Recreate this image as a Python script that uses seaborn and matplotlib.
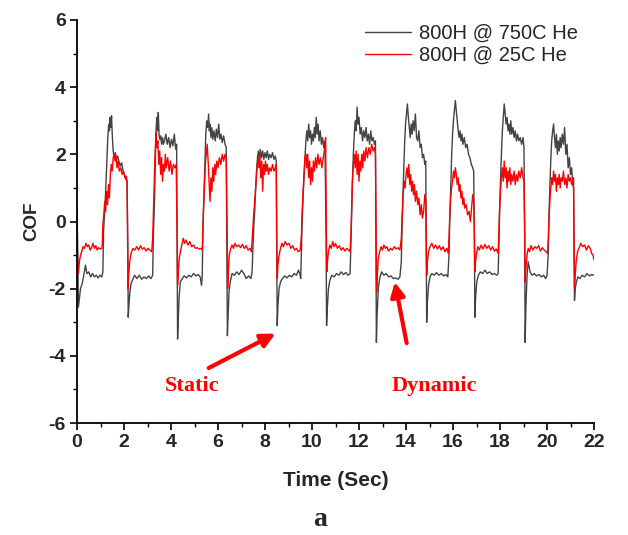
import matplotlib
matplotlib.use("Agg")
import matplotlib.pyplot as plt
from matplotlib.ticker import MultipleLocator
import pandas as pd
import seaborn as sns

series_labels = ["800H @ 750C He", "800H @ 25C He"]
series_colors = ["#434343", "#ff0000"]

time_750 = [
    0.00, 0.03, 0.06, 0.10, 0.15, 0.22, 0.30, 0.36, 0.42, 0.50, 0.58, 0.66, 0.74, 0.82, 0.90, 0.98, 1.06,
    1.10, 1.13, 1.17, 1.22, 1.27, 1.31, 1.35, 1.38, 1.41, 1.44, 1.47, 1.50, 1.54, 1.58, 1.63, 1.68, 1.73, 1.78, 1.84, 1.90, 1.96, 2.02, 2.08, 2.13,
    2.16, 2.18, 2.21, 2.25, 2.30, 2.36, 2.45, 2.55, 2.65, 2.75, 2.85, 2.95, 3.05, 3.15, 3.22,
    3.25, 3.28, 3.31, 3.34, 3.37, 3.40, 3.43, 3.46, 3.49, 3.52, 3.56, 3.60, 3.64, 3.68, 3.72, 3.78, 3.84, 3.90, 3.96, 4.02, 4.08, 4.14, 4.20, 4.24,
    4.26, 4.28, 4.31, 4.35, 4.40, 4.48, 4.56, 4.66, 4.76, 4.86, 4.96, 5.06, 5.16, 5.24, 5.30, 5.33,
    5.36, 5.39, 5.42, 5.45, 5.48, 5.52, 5.56, 5.60, 5.63, 5.66, 5.70, 5.74, 5.78, 5.83, 5.88, 5.93, 5.98, 6.03, 6.08, 6.13, 6.18, 6.24, 6.30, 6.35,
    6.38, 6.40, 6.43, 6.47, 6.52, 6.60, 6.70, 6.80, 6.90, 7.00, 7.10, 7.20, 7.30, 7.40,
    7.45, 7.48, 7.52, 7.56, 7.60, 7.64, 7.68, 7.72, 7.76, 7.80, 7.85, 7.90, 7.95, 8.00, 8.05, 8.10, 8.15, 8.20, 8.26, 8.32, 8.38, 8.44, 8.48,
    8.50, 8.52, 8.55, 8.60, 8.66, 8.74, 8.84, 8.94, 9.04, 9.14, 9.24, 9.34, 9.42, 9.48, 9.52,
    9.55, 9.58, 9.62, 9.66, 9.70, 9.74, 9.78, 9.82, 9.86, 9.90, 9.94, 9.98, 10.02, 10.06, 10.10, 10.14, 10.18, 10.22, 10.26, 10.30, 10.35, 10.40, 10.45, 10.50, 10.55,
    10.60, 10.62, 10.65, 10.70, 10.76, 10.84, 10.94, 11.04, 11.14, 11.24, 11.34, 11.44, 11.54, 11.62,
    11.66, 11.69, 11.72, 11.76, 11.80, 11.84, 11.88, 11.92, 11.96, 12.00, 12.05, 12.10, 12.15, 12.20, 12.25, 12.30, 12.35, 12.40, 12.45, 12.50, 12.55, 12.60, 12.66, 12.70,
    12.72, 12.74, 12.77, 12.82, 12.88, 12.96, 13.06, 13.16, 13.26, 13.36, 13.46, 13.56, 13.66, 13.74,
    13.80, 13.83, 13.86, 13.90, 13.94, 13.98, 14.02, 14.06, 14.10, 14.14, 14.18, 14.22, 14.26, 14.30, 14.35, 14.40, 14.45, 14.50, 14.55, 14.60, 14.65, 14.70, 14.75, 14.80, 14.84,
    14.86, 14.88, 14.91, 14.96, 15.02, 15.10, 15.20, 15.30, 15.40, 15.50, 15.60, 15.70, 15.78,
    15.83, 15.86, 15.90, 15.94, 15.98, 16.02, 16.06, 16.10, 16.14, 16.18, 16.22, 16.26, 16.30, 16.34, 16.38, 16.42, 16.48, 16.54, 16.60, 16.66, 16.72, 16.78, 16.84, 16.88,
    16.91, 16.93, 16.96, 17.01, 17.08, 17.16, 17.26, 17.36, 17.46, 17.56, 17.66, 17.76, 17.86, 17.92,
    17.95, 17.98, 18.02, 18.06, 18.10, 18.14, 18.18, 18.22, 18.26, 18.30, 18.34, 18.38, 18.42, 18.46, 18.50, 18.55, 18.60, 18.65, 18.70, 18.75, 18.80, 18.86, 18.92, 18.98, 19.02,
    19.05, 19.07, 19.10, 19.15, 19.20, 19.28, 19.36, 19.46, 19.56, 19.66, 19.76, 19.86, 19.94, 20.00,
    20.05, 20.08, 20.12, 20.16, 20.20, 20.24, 20.28, 20.32, 20.36, 20.40, 20.44, 20.48, 20.52, 20.56, 20.60, 20.65, 20.70, 20.75, 20.80, 20.85, 20.90, 20.95, 21.00, 21.05, 21.10, 21.13,
    21.15, 21.17, 21.20, 21.25, 21.32, 21.40, 21.50, 21.60, 21.70, 21.80, 21.90, 22.00,
]
cof_750 = [
    0.45, -0.8, -2.55, -2.3, -2.0, -1.85, -1.55, -1.3, -1.55, -1.5, -1.65, -1.55, -1.65, -1.6, -1.68, -1.6, -1.65,
    -1.5, -0.3, 0.2, 0.9, 1.8, 2.5, 2.9, 2.7, 3.1, 2.8, 3.15, 2.6, 2.1, 1.9, 2.05, 1.85, 1.95, 1.8, 1.65, 1.75, 1.5, 1.4, 1.25, 1.2,
    -0.5, -2.85, -2.5, -2.1, -1.85, -1.75, -1.6, -1.7, -1.6, -1.72, -1.65, -1.7, -1.62, -1.7, -1.6,
    -0.4, 0.2, 1.0, 2.0, 2.8, 3.1, 2.7, 3.25, 2.6, 2.45, 2.55, 2.3, 2.5, 2.3, 2.4, 2.6, 2.3, 2.5, 2.2, 2.45, 2.25, 2.6, 2.15, 2.3,
    -0.8, -3.5, -2.9, -2.2, -1.8, -1.7, -1.62, -1.68, -1.6, -1.65, -1.55, -1.62, -1.58, -1.65, -1.9, -1.6,
    -0.2, 0.5, 1.3, 2.0, 2.6, 3.0, 2.8, 3.2, 2.7, 2.9, 2.5, 2.8, 2.45, 2.7, 2.4, 2.75, 2.5, 2.9, 2.45, 2.6, 2.35, 2.55, 2.3, 2.2,
    -1.0, -3.4, -2.8, -2.1, -1.8, -1.55, -1.6, -1.5, -1.58, -1.45, -1.55, -1.7, -1.62, -1.7,
    -1.5, -0.9, -0.2, 0.3, 0.9, 1.5, 1.9, 2.1, 1.8, 2.15, 1.9, 2.1, 1.85, 2.05, 1.9, 2.1, 1.85, 2.0, 1.9, 2.05, 1.85, 1.95, 1.8,
    -1.0, -3.1, -2.5, -2.0, -1.8, -1.7, -1.62, -1.68, -1.6, -1.65, -1.55, -1.6, -1.45, -1.55, -1.7,
    -0.8, 0.0, 0.7, 1.3, 1.9, 2.4, 2.7, 2.4, 2.9, 2.5, 2.7, 2.3, 2.6, 2.4, 2.8, 2.5, 3.1, 2.6, 2.9, 2.4, 2.7, 2.3, 2.5, 2.2, 2.4,
    -0.5, -3.1, -2.6, -2.0, -1.75, -1.6, -1.65, -1.55, -1.6, -1.5, -1.58, -1.52, -1.6, -1.55,
    -0.6, 0.3, 1.2, 2.0, 2.6, 3.0, 2.7, 3.4, 2.9, 3.1, 2.6, 2.8, 2.4, 2.7, 2.5, 2.8, 2.4, 2.6, 2.3, 2.7, 2.4, 2.5, 2.3, 2.4,
    -0.5, -3.6, -2.8, -2.0, -1.7, -1.5, -1.6, -1.55, -1.65, -1.62, -1.7, -1.68, -1.72, -1.65,
    -1.2, -0.3, 0.6, 1.5, 2.3, 2.9, 3.2, 3.5, 3.1, 2.8, 2.5, 2.9, 2.6, 3.0, 2.7, 3.2, 2.5, 2.4, 2.7, 2.2, 2.3, 1.9, 2.0, 1.7, 1.8,
    -0.6, -3.0, -2.4, -1.9, -1.65, -1.55, -1.6, -1.52, -1.6, -1.55, -1.62, -1.58, -1.65,
    -1.0, 0.0, 1.0, 1.9, 2.6, 3.0, 3.3, 3.6, 3.3, 3.0, 2.7, 2.5, 2.7, 2.4, 2.6, 2.3, 2.5, 2.2, 2.3, 2.0, 1.9, 1.7, 1.6, 1.5,
    -0.5, -2.85, -2.3, -1.8, -1.6, -1.5, -1.55, -1.45, -1.55, -1.5, -1.58, -1.55, -1.6, -1.55,
    -0.8, 0.2, 1.2, 2.0, 2.7, 3.1, 3.5, 3.2, 2.9, 3.1, 2.7, 2.9, 2.6, 3.0, 2.6, 2.8, 2.5, 2.7, 2.4, 2.6, 2.4, 2.5, 2.3, 2.5, 2.2,
    -0.5, -3.6, -2.6, -1.6, -1.2, -1.5, -1.6, -1.55, -1.62, -1.58, -1.65, -1.6, -1.7, -1.62,
    -1.0, 0.0, 1.0, 1.8, 2.4, 2.7, 2.9, 2.5, 2.2, 2.6, 2.0, 2.4, 2.1, 2.5, 2.2, 2.6, 2.3, 2.8, 2.0, 2.3, 1.6, 1.9, 1.4, 1.6, 1.1, 1.0,
    -0.5, -2.35, -2.0, -1.8, -1.65, -1.7, -1.6, -1.65, -1.55, -1.62, -1.58, -1.6,
]

time_25 = [
    0.00, 0.03, 0.06, 0.10, 0.15, 0.20, 0.26, 0.32, 0.38, 0.44, 0.50, 0.56, 0.62, 0.68, 0.74, 0.80, 0.86, 0.92, 1.00, 1.06,
    1.08, 1.10, 1.14, 1.18, 1.22, 1.26, 1.30, 1.34, 1.38, 1.42, 1.46, 1.50, 1.54, 1.58, 1.62, 1.66, 1.70, 1.75, 1.80, 1.86, 1.92, 1.98, 2.04, 2.10, 2.13,
    2.15, 2.17, 2.20, 2.24, 2.30, 2.38, 2.46, 2.54, 2.62, 2.70, 2.78, 2.86, 2.94, 3.02, 3.10, 3.18,
    3.22, 3.25, 3.28, 3.31, 3.34, 3.37, 3.40, 3.44, 3.48, 3.52, 3.56, 3.60, 3.64, 3.68, 3.72, 3.76, 3.80, 3.86, 3.92, 3.98, 4.04, 4.10, 4.16, 4.22,
    4.26, 4.28, 4.31, 4.35, 4.40, 4.46, 4.52, 4.58, 4.64, 4.72, 4.80, 4.88, 4.96, 5.04, 5.12, 5.20, 5.28, 5.33,
    5.35, 5.38, 5.42, 5.46, 5.50, 5.54, 5.58, 5.62, 5.66, 5.70, 5.74, 5.78, 5.82, 5.86, 5.90, 5.95, 6.00, 6.06, 6.12, 6.18, 6.24, 6.30, 6.35,
    6.39, 6.41, 6.44, 6.48, 6.54, 6.60, 6.66, 6.72, 6.80, 6.88, 6.96, 7.04, 7.12, 7.20, 7.28, 7.36, 7.42,
    7.45, 7.50, 7.55, 7.60, 7.65, 7.70, 7.74, 7.78, 7.82, 7.86, 7.90, 7.94, 7.98, 8.02, 8.06, 8.10, 8.15, 8.20, 8.26, 8.32, 8.38, 8.44, 8.48,
    8.50, 8.52, 8.55, 8.60, 8.66, 8.72, 8.78, 8.86, 8.94, 9.02, 9.10, 9.18, 9.26, 9.34, 9.42, 9.50,
    9.55, 9.58, 9.62, 9.66, 9.70, 9.74, 9.78, 9.82, 9.86, 9.90, 9.94, 9.98, 10.02, 10.06, 10.10, 10.15, 10.20, 10.25, 10.30, 10.36, 10.42, 10.48, 10.54, 10.58,
    10.61, 10.63, 10.66, 10.70, 10.76, 10.82, 10.88, 10.94, 11.00, 11.08, 11.16, 11.24, 11.32, 11.40, 11.48, 11.56, 11.62,
    11.66, 11.69, 11.72, 11.76, 11.80, 11.84, 11.88, 11.92, 11.96, 12.00, 12.04, 12.08, 12.12, 12.16, 12.20, 12.25, 12.30, 12.36, 12.42, 12.48, 12.54, 12.60, 12.66, 12.70,
    12.73, 12.75, 12.78, 12.82, 12.88, 12.94, 13.00, 13.06, 13.12, 13.18, 13.26, 13.34, 13.42, 13.50, 13.58, 13.66, 13.74,
    13.80, 13.84, 13.88, 13.92, 13.96, 14.00, 14.04, 14.08, 14.12, 14.16, 14.20, 14.24, 14.28, 14.32, 14.36, 14.40, 14.45, 14.50, 14.55, 14.60, 14.65, 14.70, 14.75, 14.80, 14.84,
    14.86, 14.88, 14.91, 14.96, 15.02, 15.10, 15.18, 15.26, 15.34, 15.42, 15.50, 15.58, 15.66, 15.74, 15.80,
    15.83, 15.86, 15.90, 15.94, 15.98, 16.02, 16.06, 16.10, 16.14, 16.18, 16.22, 16.26, 16.30, 16.34, 16.38, 16.42, 16.46, 16.50, 16.56, 16.62, 16.68, 16.74, 16.80, 16.84, 16.88,
    16.91, 16.93, 16.96, 17.00, 17.06, 17.12, 17.20, 17.28, 17.36, 17.44, 17.52, 17.60, 17.68, 17.76, 17.84, 17.92,
    17.95, 17.98, 18.02, 18.06, 18.10, 18.14, 18.18, 18.22, 18.26, 18.30, 18.34, 18.38, 18.42, 18.46, 18.50, 18.55, 18.60, 18.65, 18.70, 18.75, 18.80, 18.86, 18.92, 18.98, 19.02,
    19.05, 19.07, 19.10, 19.15, 19.20, 19.26, 19.32, 19.40, 19.48, 19.56, 19.64, 19.72, 19.80, 19.88, 19.96, 20.02,
    20.05, 20.08, 20.12, 20.16, 20.20, 20.24, 20.28, 20.32, 20.36, 20.40, 20.44, 20.48, 20.52, 20.56, 20.60, 20.65, 20.70, 20.75, 20.80, 20.85, 20.90, 20.95, 21.00, 21.05, 21.10, 21.13,
    21.15, 21.17, 21.20, 21.24, 21.30, 21.36, 21.44, 21.52, 21.60, 21.68, 21.76, 21.84, 21.90, 21.96, 22.00,
]
cof_25 = [
    -0.5, -1.2, -1.55, -1.2, -1.0, -0.9, -0.75, -0.8, -0.65, -0.75, -0.7, -0.85, -0.78, -0.65, -0.8, -0.72, -0.85, -0.78, -0.82, -0.8,
    -0.6, -0.1, 0.2, 0.6, 0.3, 0.9, 0.5, 1.1, 0.7, 1.4, 1.7, 1.5, 1.9, 2.0, 1.8, 1.95, 1.6, 1.8, 1.5, 1.6, 1.4, 1.5, 1.3, 1.35, 1.2,
    -0.5, -2.0, -1.6, -1.2, -0.95, -0.8, -0.85, -0.75, -0.85, -0.72, -0.82, -0.78, -0.88, -0.8, -0.85, -0.9,
    -0.5, 0.2, 1.0, 1.8, 2.3, 2.65, 2.2, 2.4, 1.7, 2.1, 1.4, 1.9, 1.2, 1.7, 1.5, 2.0, 1.6, 1.9, 1.5, 1.8, 1.4, 1.7, 1.6, 1.7,
    -0.3, -1.9, -1.5, -1.1, -0.9, -0.7, -0.5, -0.65, -0.55, -0.7, -0.6, -0.75, -0.7, -0.8, -0.78, -0.82, -0.8, -0.85,
    -0.4, 0.3, 1.0, 1.7, 2.0, 2.3, 1.8, 1.2, 0.6, 1.3, 0.9, 1.6, 1.2, 1.7, 1.4, 1.8, 1.6, 1.9, 1.7, 2.0, 1.8, 2.0, 1.9,
    -0.3, -2.0, -1.5, -1.0, -0.8, -0.7, -0.8, -0.65, -0.75, -0.7, -0.78, -0.68, -0.8, -0.72, -0.85, -0.8, -0.9,
    -0.6, 0.0, 0.5, 1.0, 1.5, 1.9, 1.6, 2.0, 1.3, 1.8, 0.9, 1.7, 1.4, 1.8, 1.5, 1.7, 1.4, 1.6, 1.5, 1.7, 1.5, 1.6, 1.7,
    -0.5, -1.7, -1.3, -1.0, -0.8, -0.65, -0.75, -0.6, -0.7, -0.65, -0.8, -0.72, -0.85, -0.8, -0.9, -0.85,
    -0.4, 0.3, 0.9, 1.4, 1.9, 2.0, 1.6, 2.0, 1.3, 1.8, 1.1, 1.6, 1.2, 1.8, 1.5, 1.9, 1.6, 2.0, 1.7, 1.9, 1.6, 1.9, 2.2, 2.5,
    -0.3, -1.5, -1.2, -0.9, -0.7, -0.8, -0.6, -0.75, -0.65, -0.8, -0.72, -0.85, -0.78, -0.88, -0.8, -0.85, -0.9,
    -0.3, 0.5, 1.2, 1.7, 2.0, 1.6, 2.1, 1.4, 2.0, 1.2, 1.8, 1.5, 2.0, 1.6, 2.1, 1.8, 2.2, 1.9, 2.2, 2.0, 2.3, 2.1, 2.2, 2.0,
    -0.4, -2.1, -1.6, -1.1, -0.9, -0.75, -0.85, -0.7, -0.8, -0.75, -0.88, -0.8, -0.85, -0.75, -0.82, -0.78, -0.85,
    -0.5, 0.2, 0.8, 1.2, 1.0, 1.4, 1.6, 1.3, 1.7, 1.1, 1.4, 0.9, 1.2, 0.8, 1.1, 0.6, 0.9, 0.5, 0.7, 0.2, 0.5, 0.1, 0.3, 0.8, 0.6,
    -0.4, -1.6, -1.2, -0.9, -0.75, -0.65, -0.8, -0.7, -0.82, -0.72, -0.85, -0.75, -0.9, -0.8, -0.95,
    -0.5, 0.1, 0.7, 1.0, 1.2, 1.5, 1.3, 1.6, 1.4, 1.1, 1.3, 0.9, 1.1, 0.7, 0.9, 0.5, 0.7, 0.4, 0.5, 0.2, 0.3, 0.0, 0.5, 0.8, 0.6,
    -0.3, -1.5, -1.2, -0.95, -0.75, -0.85, -0.7, -0.82, -0.68, -0.8, -0.72, -0.85, -0.75, -0.88, -0.82, -0.95,
    -0.4, 0.3, 0.9, 1.3, 1.6, 1.2, 1.8, 1.3, 1.6, 1.0, 1.5, 1.2, 1.6, 1.1, 1.4, 1.2, 1.5, 1.1, 1.4, 1.2, 1.5, 1.3, 1.6, 1.3, 1.2,
    -0.2, -1.8, -1.4, -1.0, -0.8, -0.9, -0.72, -0.85, -0.75, -0.8, -0.72, -0.88, -0.78, -0.85, -0.9, -0.95,
    -0.6, 0.0, 0.6, 1.0, 1.3, 1.1, 1.5, 1.2, 1.4, 0.9, 1.3, 1.1, 1.4, 1.0, 1.3, 1.2, 1.5, 1.1, 1.3, 1.0, 1.4, 1.2, 1.3, 1.1, 1.2, 1.3,
    -0.3, -2.0, -1.6, -1.2, -0.9, -0.8, -0.65, -0.75, -0.7, -0.85, -0.72, -0.8, -0.95, -1.0, -1.15,
]

x_ticks = list(range(0, 23, 2))
y_ticks = list(range(-6, 7, 2))

df = pd.concat([
    pd.DataFrame({"Time (Sec)": time_750, "COF": cof_750, "Series": series_labels[0]}),
    pd.DataFrame({"Time (Sec)": time_25, "COF": cof_25, "Series": series_labels[1]}),
], ignore_index=True)

sns.set_theme(style="ticks")
plt.rcParams["font.family"] = ["Liberation Sans", "DejaVu Sans"]
plt.rcParams["axes.unicode_minus"] = False

fig = plt.figure(figsize=(6.28, 5.35), dpi=100)
ax = fig.add_axes([77 / 628, 1 - 423 / 535, (594 - 77) / 628, (423 - 20) / 535])

sns.lineplot(data=df, x="Time (Sec)", y="COF", hue="Series",
             palette=dict(zip(series_labels, series_colors)),
             estimator=None, sort=False, linewidth=1.0, ax=ax)

ax.set_xlim(0, 22)
ax.set_ylim(-6, 6)
ax.set_xticks(x_ticks)
ax.set_yticks(y_ticks)
ax.xaxis.set_minor_locator(MultipleLocator(1))
ax.yaxis.set_minor_locator(MultipleLocator(1))
ax.tick_params(which="major", direction="out", length=5, width=1.2, labelsize=14, pad=3, color="black")
ax.tick_params(which="minor", direction="out", length=3, width=1.0, color="black")
for lab in ax.get_xticklabels() + ax.get_yticklabels():
    lab.set_fontweight("bold")
sns.despine(ax=ax)
for s in ["left", "bottom"]:
    ax.spines[s].set_linewidth(1.3)
    ax.spines[s].set_color("black")

ax.set_xlabel("Time (Sec)", fontsize=15, fontweight="bold", labelpad=14)
ax.set_ylabel("COF", fontsize=13.5, fontweight="bold", labelpad=6)

leg = ax.legend(loc="upper right", bbox_to_anchor=(0.985, 1.01), frameon=False,
                fontsize=14.5, handlelength=2.3, handletextpad=0.4, labelspacing=0.15,
                borderaxespad=0.0)

serif = ["Liberation Serif", "DejaVu Serif"]
ax.annotate("", xy=(8.55, -3.3), xytext=(5.5, -4.4),
            arrowprops=dict(arrowstyle="-|>,head_length=0.7,head_width=0.35", color="red", lw=3))
ax.text(4.9, -4.9, "Static", color="red", fontsize=16, fontweight="bold", family=serif,
        ha="center", va="center")
ax.annotate("", xy=(13.5, -1.72), xytext=(14.05, -3.7),
            arrowprops=dict(arrowstyle="-|>,head_length=0.7,head_width=0.35", color="red", lw=3))
ax.text(15.2, -4.9, "Dynamic", color="red", fontsize=16, fontweight="bold", family=serif,
        ha="center", va="center")

fig.text(320 / 628, 1 - 519 / 535, "a", fontsize=20, fontweight="bold", family=serif,
         ha="center", va="center")

fig.savefig("out.png", dpi=100, facecolor="white")
